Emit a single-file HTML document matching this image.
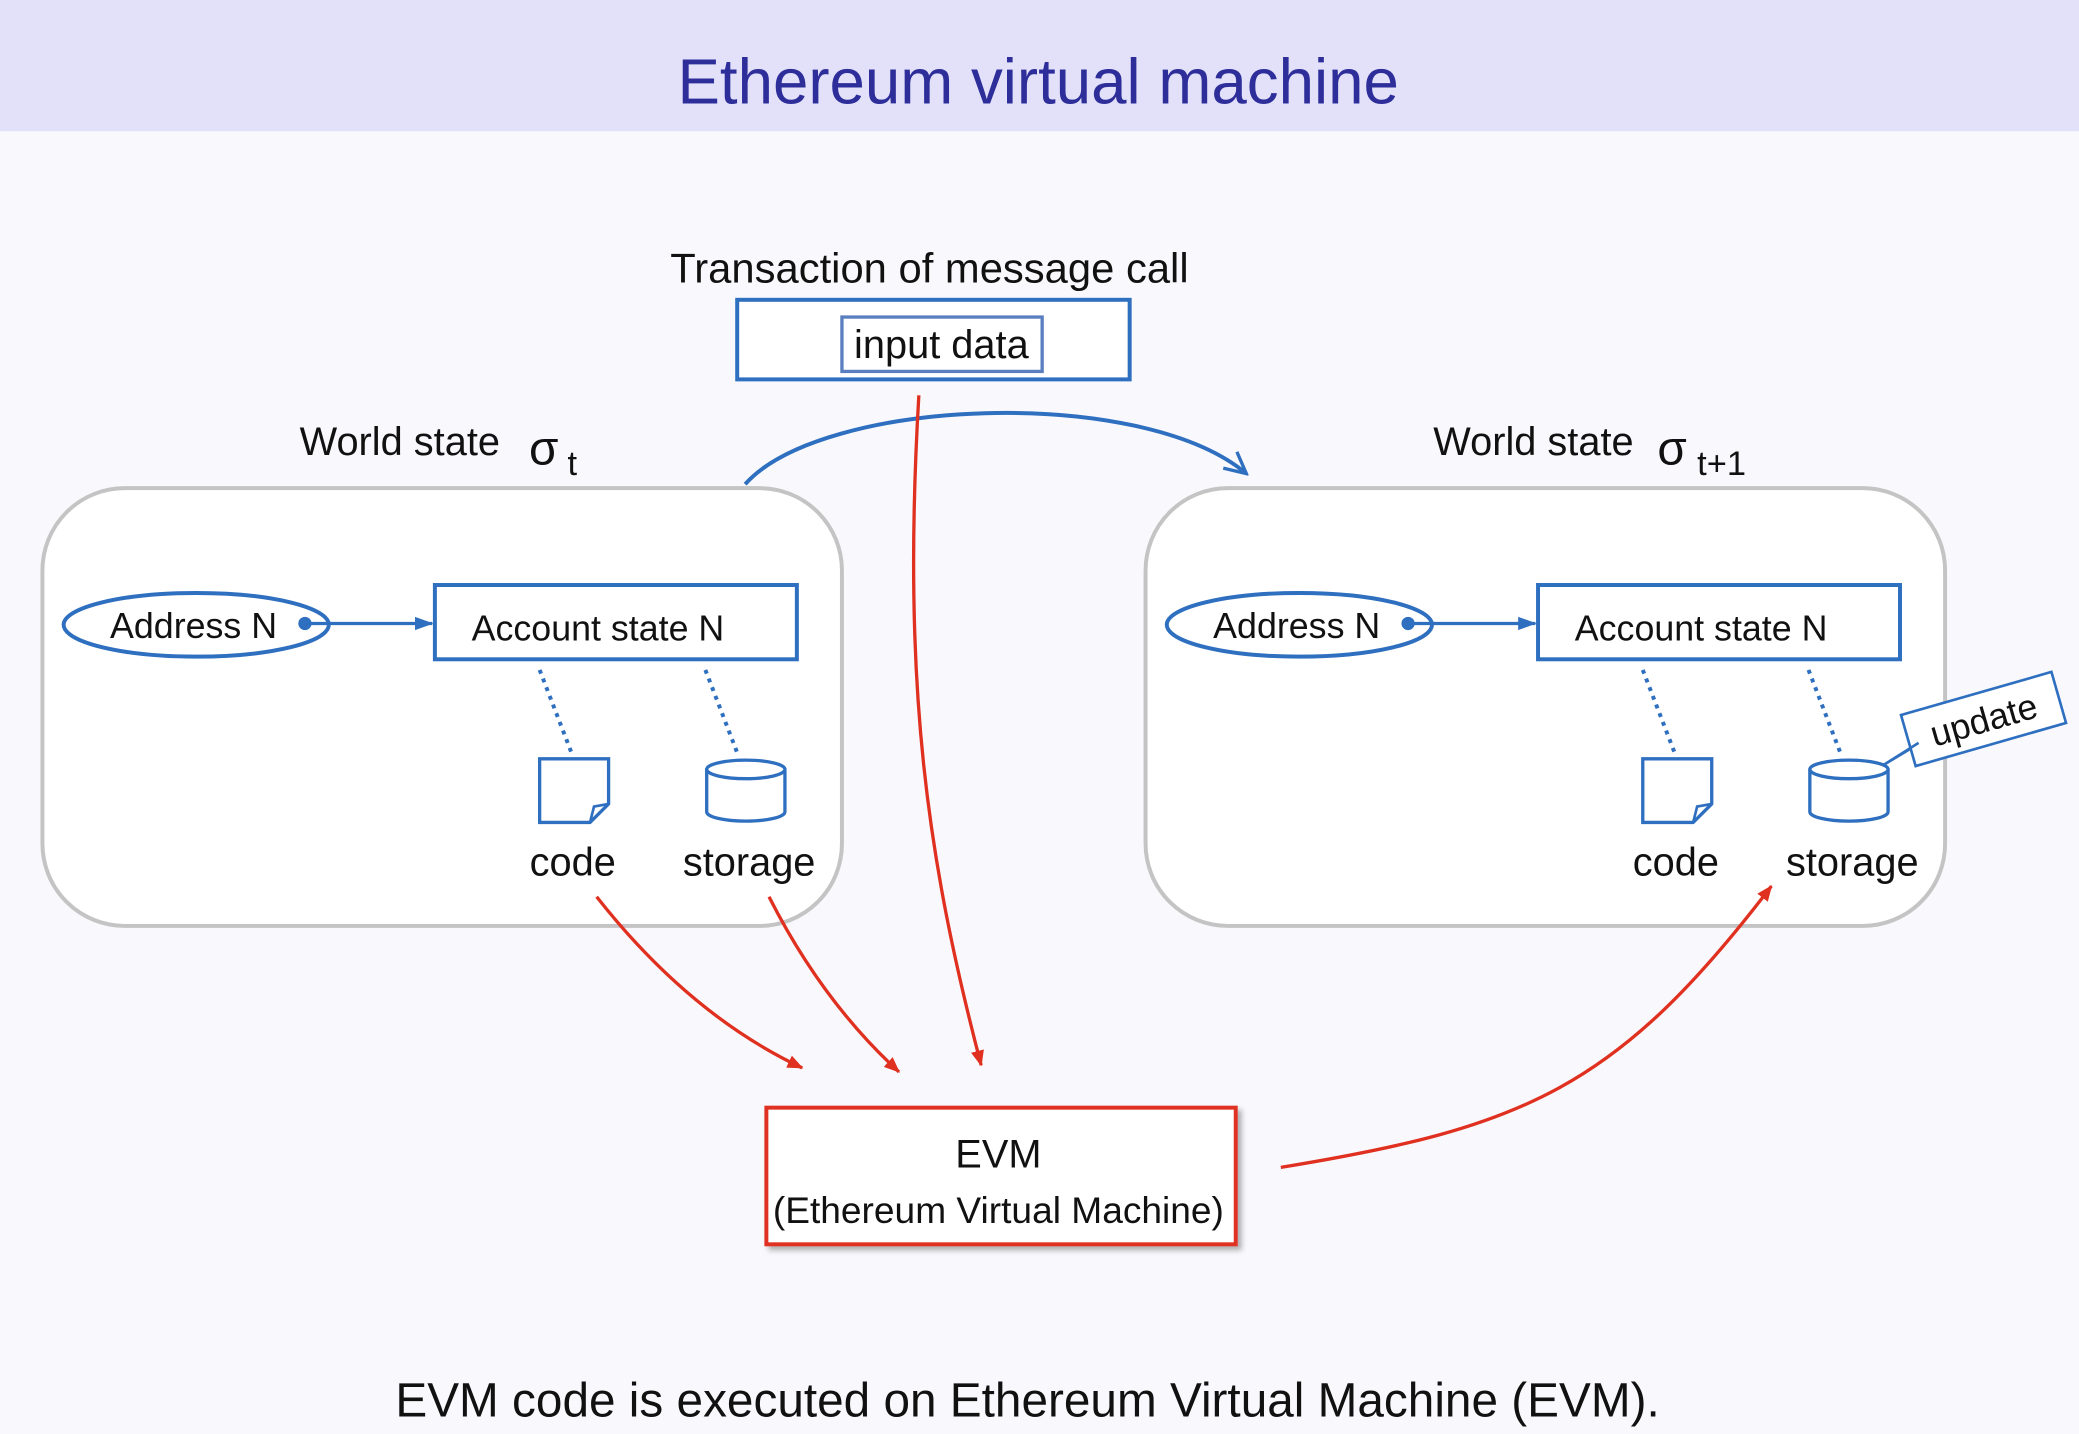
<!DOCTYPE html>
<html><head><meta charset="utf-8"><style>
html,body{margin:0;padding:0;background:#f9f9fd;}
svg{display:block;}
text{font-family:"Liberation Sans",Arial,sans-serif;fill:#111;}
</style></head><body>
<svg width="2079" height="1434" viewBox="0 0 1568 1081" preserveAspectRatio="none" xmlns="http://www.w3.org/2000/svg">
<defs>
<marker id="bl" markerWidth="14" markerHeight="12" refX="13" refY="6" orient="auto" markerUnits="userSpaceOnUse"><path d="M0,1 L14,6 L0,11 Z" fill="#2f6fc0"/></marker>
<marker id="rd" markerWidth="12" markerHeight="12" refX="11" refY="6" orient="auto" markerUnits="userSpaceOnUse"><path d="M0,1 L12,6 L0,11 Z" fill="#e03020"/></marker>
<marker id="op" markerWidth="20" markerHeight="20" refX="18" refY="10" orient="auto" markerUnits="userSpaceOnUse"><path d="M2,2 L18,10 L2,18" fill="none" stroke="#2f6fc0" stroke-width="2.5"/></marker>
<filter id="sh"><feDropShadow dx="3" dy="3" stdDeviation="2" flood-opacity="0.3"/></filter>
</defs>
<rect x="0" y="0" width="1568" height="1081" fill="#f9f9fd"/>
<rect x="0" y="0" width="1568" height="99" fill="#e3e1fa"/>
<text x="783" y="78" font-size="48" text-anchor="middle" style="fill:#2e2e9a">Ethereum virtual machine</text>

<text x="701" y="213" font-size="31.5" text-anchor="middle">Transaction of message call</text>
<rect x="556" y="226" width="296" height="60" fill="#fff" stroke="#2f6fc0" stroke-width="3"/>
<rect x="635" y="239" width="151" height="41" fill="#fff" stroke="#5a7fc0" stroke-width="2.5"/>
<text x="710" y="270" font-size="30" text-anchor="middle">input data</text>

<text x="226" y="343" font-size="30">World state</text>
<text x="399" y="350" font-size="36">σ</text>
<text x="428" y="358" font-size="26">t</text>
<text x="1081" y="343" font-size="30">World state</text>
<text x="1250" y="350" font-size="36">σ</text>
<text x="1280" y="358" font-size="26">t+1</text>

<g id="L">
<rect x="32" y="368" width="603" height="330" rx="62" fill="#fff" stroke="#c4c4c4" stroke-width="3"/>
<ellipse cx="148" cy="471" rx="100" ry="24" fill="#fff" stroke="#2f6fc0" stroke-width="3"/>
<text x="146" y="481" font-size="27" text-anchor="middle">Address N</text>
<circle cx="230" cy="470" r="5" fill="#2f6fc0"/>
<line x1="230" y1="470" x2="326" y2="470" stroke="#2f6fc0" stroke-width="2.5" marker-end="url(#bl)"/>
<rect x="328" y="441" width="273" height="56" fill="#fff" stroke="#2f6fc0" stroke-width="3"/>
<text x="451" y="483" font-size="27" text-anchor="middle">Account state N</text>
<line x1="407" y1="505" x2="432" y2="570" stroke="#2f6fc0" stroke-width="3" stroke-dasharray="3,4"/>
<line x1="532" y1="505" x2="557" y2="570" stroke="#2f6fc0" stroke-width="3" stroke-dasharray="3,4"/>
<path d="M407,572 H459 V606 L445,620 H407 Z" fill="#fff" stroke="#2f6fc0" stroke-width="2.5"/>
<path d="M445,620 L448,608 L459,606" fill="none" stroke="#2f6fc0" stroke-width="2"/>
<path d="M533,580 V612 A29.5,7 0 0 0 592,612 V580" fill="#fff" stroke="#2f6fc0" stroke-width="2.5"/>
<ellipse cx="562.5" cy="580" rx="29.5" ry="7" fill="#fff" stroke="#2f6fc0" stroke-width="2.5"/>
<text x="432" y="660" font-size="30" text-anchor="middle">code</text>
<text x="565" y="660" font-size="30" text-anchor="middle">storage</text>
</g>
<use href="#L" transform="translate(832,0)"/>

<g transform="rotate(-16 1496 542)">
<rect x="1437" y="522" width="118" height="40" fill="#fff" stroke="#2f6fc0" stroke-width="2"/>
<text x="1496" y="552" font-size="27" text-anchor="middle">update</text>
</g>
<path d="M1440,565 L1420,577 L1447,560" fill="#fff" stroke="#2f6fc0" stroke-width="2"/>

<path d="M562,365 C620,300 860,290 940,357" fill="none" stroke="#2f6fc0" stroke-width="3" marker-end="url(#op)"/>

<path d="M693,298 C680,520 700,650 740,803" fill="none" stroke="#e03020" stroke-width="2.5" marker-end="url(#rd)"/>
<path d="M450,676 Q520,765 605,805" fill="none" stroke="#e03020" stroke-width="2.5" marker-end="url(#rd)"/>
<path d="M580,676 Q620,755 678,808" fill="none" stroke="#e03020" stroke-width="2.5" marker-end="url(#rd)"/>
<path d="M966,880 C1150,850 1220,820 1336,668" fill="none" stroke="#e03020" stroke-width="2.5" marker-end="url(#rd)"/>

<rect x="578" y="835" width="354" height="103" fill="#fff" stroke="#e03020" stroke-width="3" filter="url(#sh)"/>
<text x="753" y="880" font-size="30" text-anchor="middle">EVM</text>
<text x="753" y="922" font-size="28" text-anchor="middle">(Ethereum Virtual Machine)</text>

<text x="775" y="1068" font-size="36" text-anchor="middle">EVM code is executed on Ethereum Virtual Machine (EVM).</text>
</svg>
</body></html>
